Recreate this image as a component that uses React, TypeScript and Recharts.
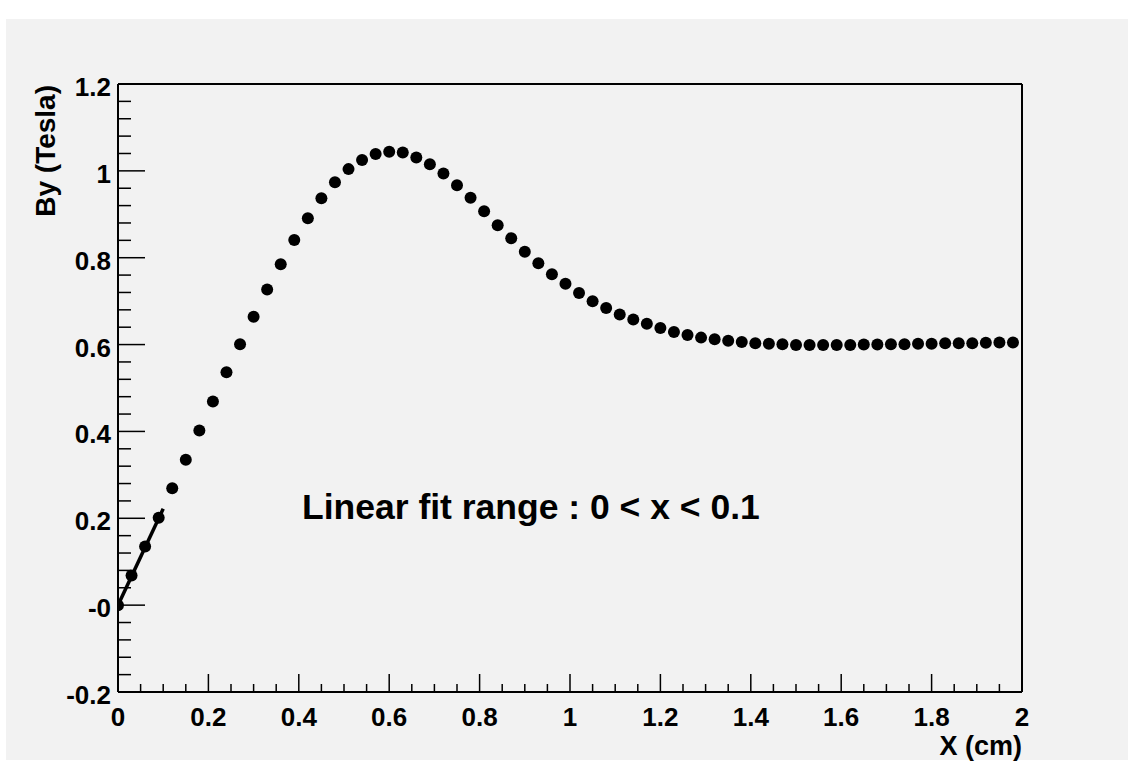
import React from "react";
import {
  ComposedChart, Scatter, Line, XAxis, YAxis, ReferenceLine,
} from "recharts";

const xValues = [
  0.0, 0.03, 0.06, 0.09, 0.12, 0.15, 0.18, 0.21, 0.24, 0.27, 0.3, 0.33,
  0.36, 0.39, 0.42, 0.45, 0.48, 0.51, 0.54, 0.57, 0.6, 0.63, 0.66, 0.69,
  0.72, 0.75, 0.78, 0.81, 0.84, 0.87, 0.9, 0.93, 0.96, 0.99, 1.02, 1.05,
  1.08, 1.11, 1.14, 1.17, 1.2, 1.23, 1.26, 1.29, 1.32, 1.35, 1.38, 1.41,
  1.44, 1.47, 1.5, 1.53, 1.56, 1.59, 1.62, 1.65, 1.68, 1.71, 1.74, 1.77,
  1.8, 1.83, 1.86, 1.89, 1.92, 1.95, 1.98,
];
const byValues = [
  0.0, 0.068, 0.135, 0.201, 0.269, 0.335, 0.402, 0.469, 0.536, 0.601, 0.664, 0.727,
  0.785, 0.841, 0.891, 0.937, 0.974, 1.004, 1.025, 1.039, 1.044, 1.042, 1.031, 1.015,
  0.994, 0.967, 0.938, 0.907, 0.875, 0.845, 0.814, 0.787, 0.762, 0.74, 0.719, 0.7,
  0.684, 0.669, 0.658, 0.648, 0.638, 0.629, 0.622, 0.616, 0.612, 0.609, 0.606, 0.603,
  0.602, 0.601, 0.599, 0.599, 0.599, 0.599, 0.599, 0.6, 0.6, 0.601, 0.601, 0.602,
  0.602, 0.603, 0.603, 0.603, 0.604, 0.605, 0.605,
];

// linear fit over 0 < x < 0.1
const fitX = [0.0, 0.1];
const fitY = [0.0, 0.222];

// axis ticks (ROOT style: labelled majors + minor subdivisions)
const xMajorTicks = [0, 0.2, 0.4, 0.6, 0.8, 1, 1.2, 1.4, 1.6, 1.8, 2];
const xTickLabels = ["0", "0.2", "0.4", "0.6", "0.8", "1", "1.2", "1.4", "1.6", "1.8", "2"];
const xMinorPerMajor = 4;
const yMajorTicks = [-0.2, 0, 0.2, 0.4, 0.6, 0.8, 1, 1.2];
const yTickLabels = ["-0.2", "-0", "0.2", "0.4", "0.6", "0.8", "1", "1.2"];
const yMinorPerMajor = 5;

function subdivide(majors: number[], n: number): number[] {
  const out: number[] = [];
  for (let i = 0; i < majors.length - 1; i++) {
    const step = (majors[i + 1] - majors[i]) / n;
    for (let k = 0; k < n; k++) out.push(+(majors[i] + k * step).toFixed(4));
  }
  out.push(majors[majors.length - 1]);
  return out;
}

const xTicks = subdivide(xMajorTicks, xMinorPerMajor);
const yTicks = subdivide(yMajorTicks, yMinorPerMajor);

const points = xValues.map((x, i) => ({ x, y: byValues[i] }));
const fitData = fitX.map((x, i) => ({ x, y: fitY[i] }));

const FONT = '"Liberation Sans", Arial, Helvetica, sans-serif';

function majorIndex(list: number[], v: number) {
  return list.findIndex((t) => Math.abs(t - v) < 1e-6);
}

function XTick(props: any) {
  const { x, y, payload } = props;
  const idx = majorIndex(xMajorTicks, payload.value);
  const major = idx >= 0;
  return (
    <g>
      <line x1={x} x2={x} y1={y} y2={y - (major ? 18 : 8)} stroke="#000" strokeWidth={1.5} />
      {major && (
        <text x={x} y={y + 34} textAnchor="middle" fontSize={26} fontWeight="bold" fontFamily={FONT} fill="#000">
          {xTickLabels[idx]}
        </text>
      )}
    </g>
  );
}

function YTick(props: any) {
  const { x, y, payload } = props;
  const idx = majorIndex(yMajorTicks, payload.value);
  const major = idx >= 0;
  return (
    <g>
      <line x1={x} x2={x + (major ? 27 : 13)} y1={y} y2={y} stroke="#000" strokeWidth={1.5} />
      {major && (
        <text x={x - 7} y={y + 12} textAnchor="end" fontSize={26} fontWeight="bold" fontFamily={FONT} fill="#000">
          {yTickLabels[idx]}
        </text>
      )}
    </g>
  );
}

const Dot = (props: any) => <circle cx={props.cx} cy={props.cy} r={6} fill="#000" />;

export default function App() {
  return (
    <div style={{ position: "absolute", left: 0, top: 0, width: 1128, height: 763, background: "#fff" }}>
      <div style={{ position: "absolute", left: 6, top: 19, width: 1122, height: 741, background: "#f2f2f2" }} />
      <div style={{ position: "absolute", left: 0, top: 0 }}>
        <ComposedChart width={1128} height={763} margin={{ top: 84, right: 106, bottom: 41, left: 58 }}>
          <XAxis
            type="number"
            dataKey="x"
            domain={[0, 2]}
            ticks={xTicks}
            interval={0}
            tickSize={0}
            tickMargin={0}
            tick={<XTick />}
            axisLine={{ stroke: "#000", strokeWidth: 2 }}
            tickLine={false}
            height={30}
            allowDataOverflow
          />
          <YAxis
            type="number"
            dataKey="y"
            domain={[-0.2, 1.2]}
            ticks={yTicks}
            interval={0}
            tickSize={0}
            tickMargin={0}
            tick={<YTick />}
            axisLine={{ stroke: "#000", strokeWidth: 2 }}
            tickLine={false}
            width={60}
            allowDataOverflow
          />
          <ReferenceLine y={1.2} stroke="#000" strokeWidth={2} />
          <ReferenceLine x={2} stroke="#000" strokeWidth={2} />
          <Scatter data={points} fill="#000" shape={Dot} isAnimationActive={false} />
          <Line
            data={fitData}
            dataKey="y"
            type="linear"
            stroke="#000"
            strokeWidth={3.5}
            dot={false}
            activeDot={false}
            isAnimationActive={false}
          />
          <text x={302} y={519} fontSize={35.5} fontWeight="bold" fontFamily={FONT} fill="#000">
            Linear fit range : 0 &lt; x &lt; 0.1
          </text>
          <text x={1022} y={755} textAnchor="end" fontSize={27} fontWeight="bold" fontFamily={FONT} fill="#000">
            X (cm)
          </text>
          <text
            x={55}
            y={85}
            textAnchor="end"
            transform="rotate(-90 55 85)"
            fontSize={28}
            fontWeight="bold"
            fontFamily={FONT}
            fill="#000"
          >
            By (Tesla)
          </text>
        </ComposedChart>
      </div>
    </div>
  );
}
